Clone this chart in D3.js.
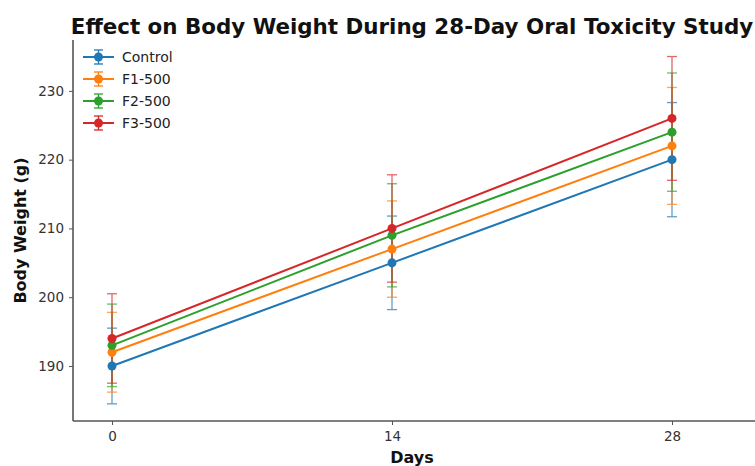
<!DOCTYPE html>
<html>
<head>
<meta charset="utf-8">
<script src="https://cdn.jsdelivr.net/npm/d3@7"></script>
<style>
  body { margin: 0; background: #fff; }
  svg { display: block; font-family: "DejaVu Sans", sans-serif; }
</style>
</head>
<body>
<svg id="chart" width="755" height="466"></svg>
<script>
// Study days
const days = [0, 14, 28];
// Group names
const groups = ["Control", "F1-500", "F2-500", "F3-500"];
// Mean body weight (g) per group at each day
const controlMean = [190, 205, 220];
const f1Mean = [192, 207, 222];
const f2Mean = [193, 209, 224];
const f3Mean = [194, 210, 226];
// Standard deviation (g) per group at each day
const controlSD = [5.5, 6.8, 8.3];
const f1SD = [5.8, 7.0, 8.5];
const f2SD = [6.0, 7.5, 8.6];
const f3SD = [6.5, 7.8, 9.0];
// Axis ticks
const xTicks = [0, 14, 28];
const yTicks = [190, 200, 210, 220, 230];
const colors = ["#1f77b4", "#ff7f0e", "#2ca02c", "#d62728"];

const series = [
  { name: groups[0], mean: controlMean, sd: controlSD },
  { name: groups[1], mean: f1Mean, sd: f1SD },
  { name: groups[2], mean: f2Mean, sd: f2SD },
  { name: groups[3], mean: f3Mean, sd: f3SD }
];

const svg = d3.select("#chart");
const mLeft = 73, mRight = 752, mTop = 40, mBottom = 421;

const x = d3.scaleLinear().domain([-1.95, 32]).range([mLeft, mRight]);
const y = d3.scaleLinear().domain([182, 237.4]).range([mBottom, mTop]);

// Title
svg.append("text")
  .attr("x", 412).attr("y", 34)
  .attr("text-anchor", "middle")
  .attr("font-size", 21.4).attr("font-weight", "bold").attr("fill", "#111")
  .text("Effect on Body Weight During 28-Day Oral Toxicity Study");

// Axes
const axisColor = "#555";
const yAxis = svg.append("g")
  .attr("transform", `translate(${mLeft},0)`)
  .call(d3.axisLeft(y).tickValues(yTicks).tickSize(4).tickPadding(5));
const xAxis = svg.append("g")
  .attr("transform", `translate(0,${mBottom})`)
  .call(d3.axisBottom(x).tickValues(xTicks).tickSize(4).tickPadding(6));
[xAxis, yAxis].forEach(g => {
  g.select(".domain").attr("stroke", axisColor).attr("stroke-width", 1.6);
  g.selectAll(".tick line").attr("stroke", axisColor).attr("stroke-width", 1);
  g.selectAll(".tick text").attr("font-size", 13.5).attr("fill", "#333")
    .attr("font-family", "DejaVu Sans, sans-serif");
});
xAxis.select(".domain").attr("d", `M${mLeft},0H${mRight + 10}`);
yAxis.select(".domain").attr("d", `M0,${mTop}V${mBottom}`);

// Axis titles
svg.append("text")
  .attr("x", 412).attr("y", 463)
  .attr("text-anchor", "middle")
  .attr("font-size", 16).attr("font-weight", "bold").attr("fill", "#111")
  .text("Days");
svg.append("text")
  .attr("transform", `translate(26,${(mTop + mBottom) / 2}) rotate(-90)`)
  .attr("text-anchor", "middle")
  .attr("font-size", 16).attr("font-weight", "bold").attr("fill", "#111")
  .text("Body Weight (g)");

// Error bars, lines and markers
const plot = svg.append("g");
const capW = 5;
series.forEach((s, i) => {
  const c = colors[i];
  const eb = plot.append("g").attr("stroke", c).attr("stroke-width", 1.3).attr("opacity", 0.7);
  days.forEach((d, j) => {
    const lo = y(s.mean[j] - s.sd[j]), hi = y(s.mean[j] + s.sd[j]), cx = x(d);
    eb.append("line").attr("x1", cx).attr("x2", cx).attr("y1", lo).attr("y2", hi);
    eb.append("line").attr("x1", cx - capW).attr("x2", cx + capW).attr("y1", lo).attr("y2", lo);
    eb.append("line").attr("x1", cx - capW).attr("x2", cx + capW).attr("y1", hi).attr("y2", hi);
  });
});
series.forEach((s, i) => {
  const c = colors[i];
  const line = d3.line().x((d, j) => x(days[j])).y(d => y(d));
  plot.append("path").datum(s.mean)
    .attr("d", line).attr("fill", "none").attr("stroke", c).attr("stroke-width", 2);
  plot.selectAll(null).data(s.mean).enter().append("circle")
    .attr("cx", (d, j) => x(days[j])).attr("cy", d => y(d))
    .attr("r", 4.5).attr("fill", c);
});

// Legend
const leg = svg.append("g");
groups.forEach((g, i) => {
  const ly = 57 + i * 22, c = colors[i];
  const row = leg.append("g").attr("stroke", c);
  row.append("line").attr("x1", 83).attr("x2", 114).attr("y1", ly).attr("y2", ly).attr("stroke-width", 2);
  row.append("line").attr("x1", 98.5).attr("x2", 98.5).attr("y1", ly - 7).attr("y2", ly + 7).attr("stroke-width", 1.3);
  row.append("line").attr("x1", 94).attr("x2", 103).attr("y1", ly - 7).attr("y2", ly - 7).attr("stroke-width", 1.3);
  row.append("line").attr("x1", 94).attr("x2", 103).attr("y1", ly + 7).attr("y2", ly + 7).attr("stroke-width", 1.3);
  leg.append("circle").attr("cx", 98.5).attr("cy", ly).attr("r", 4.5).attr("fill", c);
  leg.append("text").attr("x", 122).attr("y", ly + 5)
    .attr("font-size", 14).attr("fill", "#222").text(g);
});
</script>
</body>
</html>
